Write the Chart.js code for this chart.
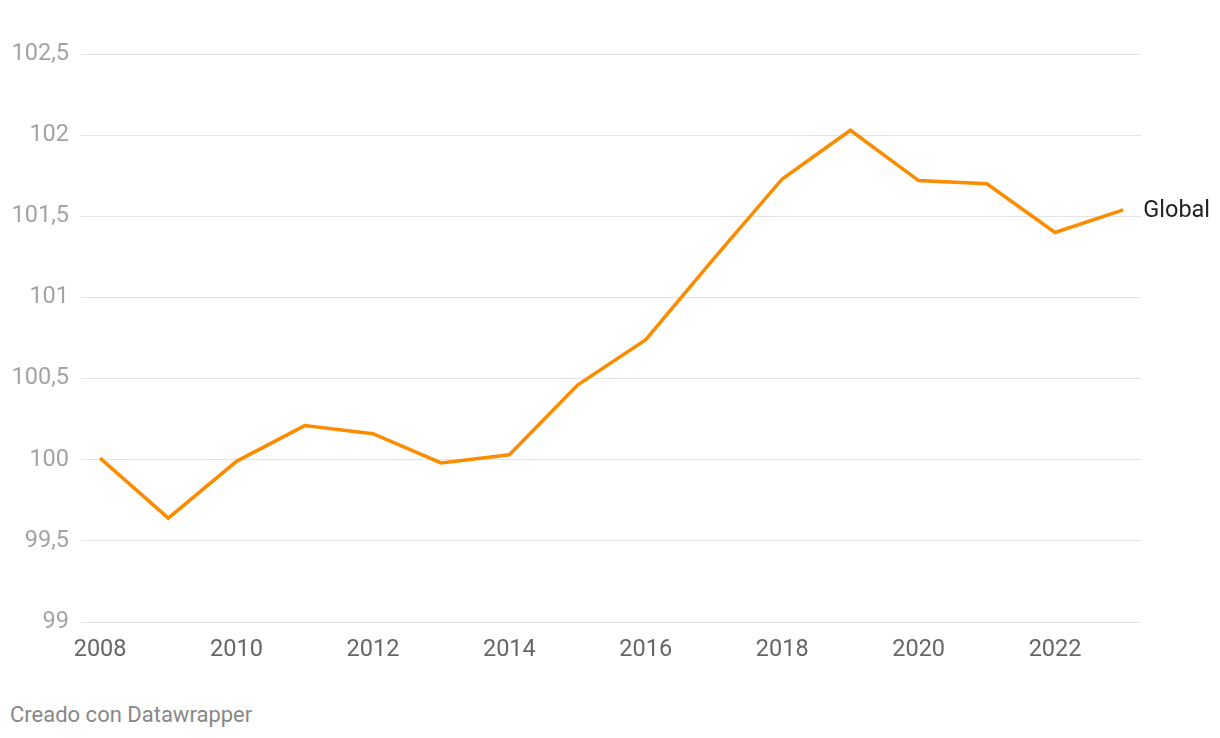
<!DOCTYPE html>
<html>
<head>
<meta charset="utf-8">
<script src="https://cdn.jsdelivr.net/npm/chart.js@4/dist/chart.umd.min.js"></script>
<style>
  html, body { margin: 0; padding: 0; background: #fff; }
  #wrap { position: relative; width: 1220px; height: 738px; }
  #footer { position: absolute; left: 10px; top: 702px; font-family: Roboto, sans-serif; font-size: 22px; color: #888; white-space: nowrap; }
</style>
</head>
<body>
<div id="wrap">
  <canvas id="c" width="1220" height="690"></canvas>
  <div id="footer">Creado con Datawrapper</div>
</div>
<script>
const years = [2008, 2009, 2010, 2011, 2012, 2013, 2014, 2015, 2016, 2017, 2018, 2019, 2020, 2021, 2022, 2023];
const globalValues = [100.01, 99.64, 99.99, 100.21, 100.16, 99.98, 100.03, 100.46, 100.74, 101.24, 101.73, 102.03, 101.72, 101.70, 101.40, 101.54];
const xTickYears = [2008, 2010, 2012, 2014, 2016, 2018, 2020, 2022];
const yTicks = [99, 99.5, 100, 100.5, 101, 101.5, 102, 102.5];
const seriesLabel = 'Global';

const endLabel = {
  id: 'endLabel',
  afterDatasetsDraw(chart) {
    const meta = chart.getDatasetMeta(0);
    const pt = meta.data[meta.data.length - 1];
    const ctx = chart.ctx;
    ctx.save();
    ctx.font = '23.5px Roboto, sans-serif';
    ctx.fillStyle = '#222';
    ctx.textAlign = 'left';
    ctx.textBaseline = 'middle';
    ctx.fillText(seriesLabel, pt.x + 20, pt.y + 1);
    ctx.restore();
  }
};

new Chart(document.getElementById('c'), {
  type: 'line',
  data: {
    datasets: [{
      label: seriesLabel,
      data: years.map((y, i) => ({ x: y, y: globalValues[i] })),
      borderColor: '#fb8c00',
      borderWidth: 3.5,
      pointRadius: 0,
      tension: 0,
      fill: false,
      clip: false
    }]
  },
  options: {
    responsive: false,
    animation: false,
    layout: { padding: { left: 0, right: 79, top: 54, bottom: 0 } },
    plugins: { legend: { display: false }, tooltip: { enabled: false } },
    scales: {
      x: {
        type: 'linear',
        min: 2007.72,
        max: 2023.26,
        afterBuildTicks(axis) { axis.ticks = xTickYears.map(v => ({ value: v })); },
        afterFit(axis) { axis.height = 68; },
        grid: { display: false, drawTicks: false },
        border: { display: false },
        ticks: {
          autoSkip: false,
          maxRotation: 0,
          padding: 14,
          color: '#666',
          font: { family: 'Roboto, sans-serif', size: 23.5 },
          callback: v => String(v)
        }
      },
      y: {
        min: 99,
        max: 102.5,
        afterBuildTicks(axis) { axis.ticks = yTicks.map(v => ({ value: v })); },
        afterFit(axis) { axis.width = 81; },
        grid: { color: '#e3e3e3', lineWidth: 1, drawTicks: false },
        border: { display: false },
        ticks: {
          padding: 12,
          color: '#a3a3a3',
          font: { family: 'Roboto, sans-serif', size: 23.5 },
          callback: v => String(v).replace('.', ',')
        }
      }
    }
  },
  plugins: [endLabel]
});
</script>
</body>
</html>
